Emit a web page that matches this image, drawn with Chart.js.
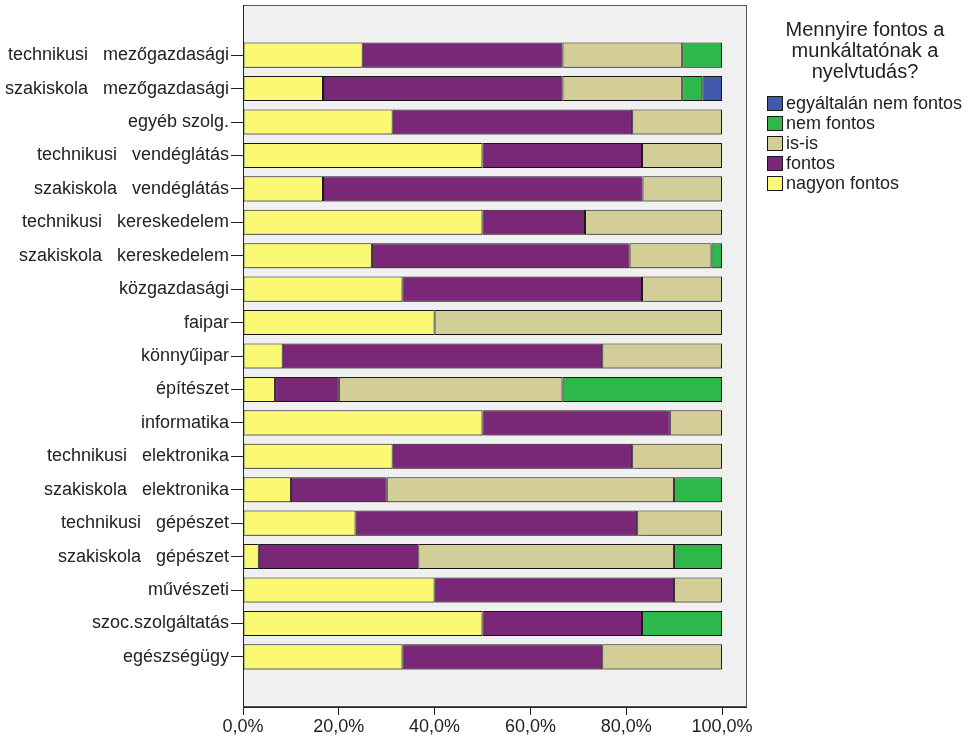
<!DOCTYPE html>
<html>
<head>
<meta charset="utf-8">
<script src="https://cdn.jsdelivr.net/npm/chart.js@4/dist/chart.umd.min.js"></script>
<style>
  html, body { margin: 0; padding: 0; background: #fff; }
  #wrap { width: 971px; height: 740px; }
</style>
</head>
<body>
<div id="wrap"><canvas id="chart" width="971" height="740"></canvas></div>
<script>
const categories = [
  'technikusi   mezőgazdasági', 'szakiskola   mezőgazdasági', 'egyéb szolg.',
  'technikusi   vendéglátás', 'szakiskola   vendéglátás', 'technikusi   kereskedelem',
  'szakiskola   kereskedelem', 'közgazdasági', 'faipar', 'könnyűipar', 'építészet',
  'informatika', 'technikusi   elektronika', 'szakiskola   elektronika',
  'technikusi   gépészet', 'szakiskola   gépészet', 'művészeti', 'szoc.szolgáltatás',
  'egészségügy'
];

// percentages per category
const nagyonFontos = [25, 16.7, 31.25, 50, 16.7, 50, 26.9, 33.3, 40, 8.3, 6.7, 50, 31.25, 10, 23.5, 3.3, 40, 50, 33.3];
const fontos       = [41.7, 50, 50, 33.3, 66.7, 21.4, 53.8, 50, 0, 66.7, 13.3, 39.1, 50, 20, 58.8, 33.3, 50, 33.3, 41.7];
const isIs         = [25, 25, 18.75, 16.7, 16.6, 28.6, 17.1, 16.7, 60, 25, 46.7, 10.9, 18.75, 60, 17.7, 53.4, 10, 0, 25];
const nemFontos    = [8.3, 4.2, 0, 0, 0, 0, 2.2, 0, 0, 0, 33.3, 0, 0, 10, 0, 10, 0, 16.7, 0];
const egyaltalan   = [0, 4.1, 0, 0, 0, 0, 0, 0, 0, 0, 0, 0, 0, 0, 0, 0, 0, 0, 0];

const xTicks = [0, 20, 40, 60, 80, 100];
const legendTitle = ['Mennyire fontos a', 'munkáltatónak a', 'nyelvtudás?'];

const FONT = '"Liberation Sans", Arial, sans-serif';
const TEXT = '#222';
const FRAME_EXTRA = 25; // frame runs on a bit past 100%

// empty slot above and below the bars, like the SPSS frame
const labels = [''].concat(categories, ['']);
const pad = (arr) => [null].concat(arr.map((v) => (v ? v : null)), [null]);

function ds(label, values, color) {
  return {
    label,
    data: pad(values),
    backgroundColor: color,
    borderColor: '#1a1a1a',
    borderWidth: 1,
    borderSkipped: false
  };
}

const bgPlugin = {
  id: 'bg',
  beforeDraw(chart) {
    const { ctx, chartArea: a } = chart;
    const right = a.right + FRAME_EXTRA;
    ctx.save();
    ctx.fillStyle = '#fff';
    ctx.fillRect(0, 0, chart.width, chart.height);
    ctx.fillStyle = '#f0f0f0';
    ctx.fillRect(a.left, a.top, right - a.left, a.bottom - a.top);
    ctx.strokeStyle = '#555';
    ctx.lineWidth = 1;
    ctx.strokeRect(a.left + 0.5, a.top + 0.5, right - a.left - 1, a.bottom - a.top - 1);
    ctx.restore();
  },
  afterDraw(chart) {
    const { ctx, chartArea: a } = chart;
    ctx.save();
    ctx.strokeStyle = '#222';
    ctx.lineWidth = 1;
    ctx.beginPath();
    ctx.moveTo(a.right, a.bottom + 0.5);
    ctx.lineTo(a.right + FRAME_EXTRA, a.bottom + 0.5);
    ctx.stroke();
    ctx.restore();
  }
};

const shadowPlugin = {
  id: 'shadow',
  beforeDatasetsDraw(chart) {
    const ctx = chart.ctx;
    ctx.save();
    ctx.shadowColor = 'rgba(0,0,0,0.22)';
    ctx.shadowOffsetX = 0;
    ctx.shadowOffsetY = 2;
    ctx.shadowBlur = 1;
  },
  afterDatasetsDraw(chart) {
    chart.ctx.restore();
  }
};

const legendPlugin = {
  id: 'sideLegend',
  afterDraw(chart) {
    const ctx = chart.ctx;
    ctx.save();
    ctx.fillStyle = TEXT;
    ctx.font = '20px ' + FONT;
    ctx.textAlign = 'center';
    ctx.textBaseline = 'middle';
    legendTitle.forEach((line, i) => {
      ctx.fillText(line, 865, 30 + i * 21);
    });
    ctx.font = '18px ' + FONT;
    ctx.textAlign = 'left';
    const items = chart.data.datasets.slice().reverse();
    items.forEach((d, i) => {
      const y = 96 + i * 20;
      ctx.fillStyle = d.backgroundColor;
      ctx.fillRect(767, y, 16, 15);
      ctx.strokeStyle = '#1a1a1a';
      ctx.lineWidth = 1;
      ctx.strokeRect(767.5, y + 0.5, 15, 14);
      ctx.fillStyle = TEXT;
      ctx.fillText(d.label, 786, y + 8);
    });
    ctx.restore();
  }
};

new Chart(document.getElementById('chart'), {
  type: 'bar',
  data: {
    labels,
    datasets: [
      ds('nagyon fontos', nagyonFontos, '#fbf873'),
      ds('fontos', fontos, '#7a2778'),
      ds('is-is', isIs, '#d3ce97'),
      ds('nem fontos', nemFontos, '#2eb84a'),
      ds('egyáltalán nem fontos', egyaltalan, '#3f5aaa')
    ]
  },
  options: {
    indexAxis: 'y',
    responsive: false,
    animation: false,
    layout: { padding: { top: 5, right: 249, left: 0, bottom: 0 } },
    datasets: {
      bar: { categoryPercentage: 1, barPercentage: 0.75 }
    },
    scales: {
      x: {
        stacked: true,
        min: 0,
        max: 100,
        afterFit(scale) {
          scale.height = 33;
          scale.paddingLeft = 0;
          scale.paddingRight = 0;
        },
        afterBuildTicks(scale) { scale.ticks = xTicks.map((v) => ({ value: v })); },
        ticks: {
          color: TEXT,
          font: { family: FONT, size: 18 },
          padding: 1,
          callback: (v) => v.toFixed(1).replace('.', ',') + '%'
        },
        grid: { drawOnChartArea: false, tickLength: 8, tickColor: '#222' },
        border: { color: '#222' }
      },
      y: {
        stacked: true,
        afterFit(scale) {
          scale.width = 243;
          scale.paddingTop = 0;
          scale.paddingBottom = 0;
        },
        ticks: {
          autoSkip: false,
          color: TEXT,
          font: { family: FONT, size: 18 },
          padding: 2
        },
        grid: {
          offset: false,
          drawOnChartArea: false,
          tickLength: 12,
          tickColor: (c) => (c.index === 0 || c.index === labels.length - 1 ? 'rgba(0,0,0,0)' : '#222')
        },
        border: { color: '#222' }
      }
    },
    plugins: {
      legend: { display: false },
      tooltip: { enabled: false }
    }
  },
  plugins: [bgPlugin, shadowPlugin, legendPlugin]
});
</script>
</body>
</html>
